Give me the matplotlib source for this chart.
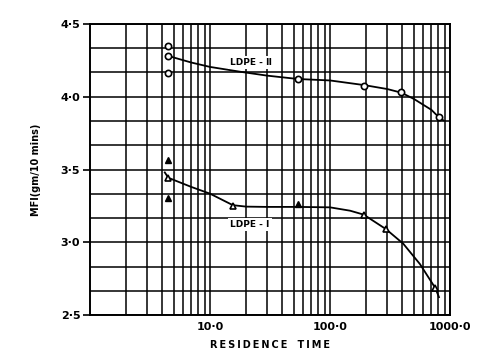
import matplotlib
matplotlib.use('Agg')
import matplotlib.pyplot as plt
from matplotlib.ticker import FixedLocator, LogLocator, NullFormatter, MultipleLocator

# LDPE-II measured points (circles)
t2 = [4.5, 4.5, 4.5, 54, 193, 393, 805]
mfi2 = [4.35, 4.28, 4.16, 4.12, 4.075, 4.03, 3.86]
# LDPE-II drawn curve
c2_t = [4.5, 7, 10, 17.8, 30, 54, 100, 193, 300, 393, 500, 700, 805, 880]
c2_y = [4.28, 4.235, 4.205, 4.172, 4.145, 4.122, 4.112, 4.08, 4.053, 4.028, 3.985, 3.91, 3.86, 3.838]

# LDPE-I measured points (triangles)
t1_filled = [4.5, 4.5, 54]
mfi1_filled = [3.568, 3.303, 3.262]
t1_open = [4.5, 15.5, 191, 293, 755]
mfi1_open = [3.443, 3.251, 3.19, 3.091, 2.685]
# LDPE-I drawn curve
c1_t = [4.2, 4.5, 7, 10, 15.5, 20, 30, 54, 100, 147, 191, 293, 408, 562, 755, 809]
c1_y = [3.48, 3.443, 3.38, 3.334, 3.255, 3.245, 3.243, 3.243, 3.24, 3.217, 3.19, 3.09, 2.99, 2.85, 2.685, 2.623]

xticks = [10, 100, 1000]
xticklabels = ['10·0', '100·0', '1000·0']
yticks = [2.5, 3.0, 3.5, 4.0, 4.5]
yticklabels = ['2·5', '3·0', '3·5', '4·0', '4·5']

plt.rcParams['font.family'] = 'DejaVu Sans'
plt.rcParams['font.weight'] = 'bold'

fig = plt.figure(figsize=(5.0, 3.58), dpi=100)
ax = fig.add_axes([0.18, 0.12, 0.72, 0.813])

ax.set_xscale('log')
ax.set_xlim(1, 1000)
ax.set_ylim(2.5, 4.5)

ax.xaxis.set_major_locator(FixedLocator(xticks))
ax.set_xticklabels(xticklabels)
ax.xaxis.set_minor_locator(LogLocator(base=10, subs=range(2, 10)))
ax.xaxis.set_minor_formatter(NullFormatter())
ax.set_yticks(yticks)
ax.set_yticklabels(yticklabels)
ax.yaxis.set_minor_locator(MultipleLocator(1 / 6))

ax.grid(True, which='both', color='black', linewidth=1.1)
ax.set_axisbelow(True)
ax.tick_params(axis='x', which='both', length=0, pad=5, labelsize=8)
ax.tick_params(axis='y', which='major', length=5, width=1.2, pad=2, labelsize=8)
ax.tick_params(axis='y', which='minor', length=0)
for s in ax.spines.values():
    s.set_linewidth(1.4)

ax.plot(c2_t, c2_y, color='black', linewidth=1.3)
ax.plot(c1_t, c1_y, color='black', linewidth=1.3)
ax.plot(t2, mfi2, 'o', markersize=4.5, markerfacecolor='white',
        markeredgecolor='black', markeredgewidth=1.2, linestyle='none')
ax.plot(t1_filled, mfi1_filled, '^', markersize=4.5, color='black', linestyle='none')
ax.plot(t1_open, mfi1_open, '^', markersize=4.5, markerfacecolor='white',
        markeredgecolor='black', markeredgewidth=1.2, linestyle='none')

ax.text(22, 4.233, 'LDPE - Ⅱ', fontsize=6.5, fontweight='bold', ha='center', va='center',
        bbox=dict(facecolor='white', edgecolor='none', pad=1.5))
ax.text(21.5, 3.123, 'LDPE - I', fontsize=6.5, fontweight='bold', ha='center', va='center',
        bbox=dict(facecolor='white', edgecolor='none', pad=1.5))

ax.set_xlabel('R\u2009E\u2009S\u2009I\u2009D\u2009E\u2009N\u2009C\u2009E   T\u2009I\u2009M\u2009E',
              fontsize=7, fontweight='bold', labelpad=6)
ax.set_ylabel('MFI(gm/10 mins)', fontsize=7, fontweight='bold', labelpad=14)

fig.savefig('out.png', dpi=100)
